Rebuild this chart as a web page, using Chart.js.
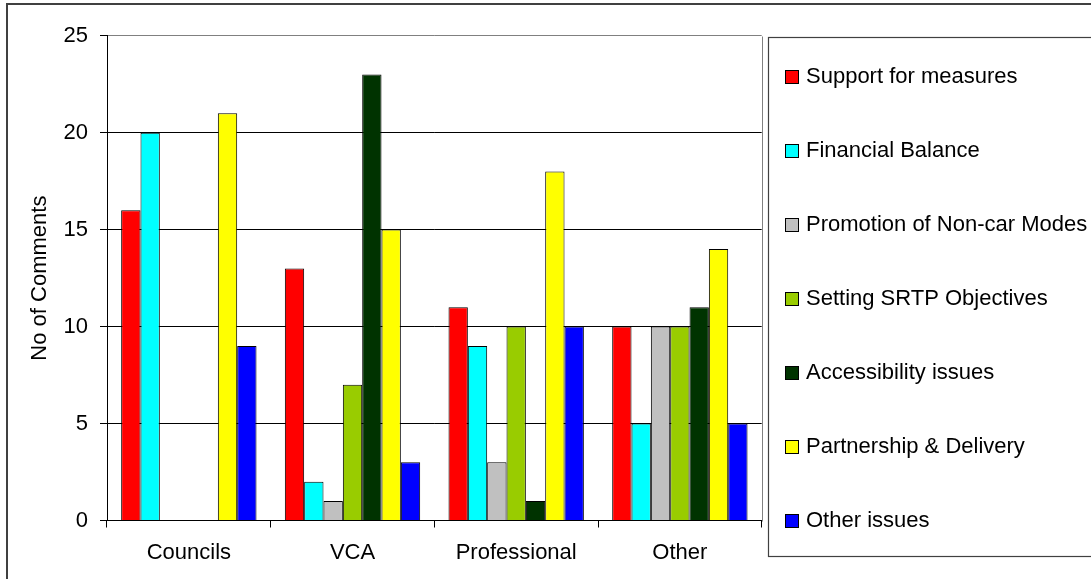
<!DOCTYPE html>
<html><head><meta charset="utf-8">
<script src="https://cdn.jsdelivr.net/npm/chart.js@4.4.0/dist/chart.umd.min.js"></script>
<style>html,body{margin:0;padding:0;background:#fff;overflow:hidden;} canvas{display:block;}</style>
</head><body>
<canvas id="c" width="1091" height="579"></canvas>
<script>
// ---- data ----
const categories = ['Councils', 'VCA', 'Professional', 'Other'];
const seriesNames = ['Support for measures', 'Financial Balance', 'Promotion of Non-car Modes',
  'Setting SRTP Objectives', 'Accessibility issues', 'Partnership & Delivery', 'Other issues'];
const supportForMeasures = [16, 13, 11, 10];
const financialBalance = [20, 2, 9, 5];
const promotionNonCar = [0, 1, 3, 10];
const settingSRTP = [0, 7, 10, 10];
const accessibilityIssues = [0, 23, 1, 11];
const partnershipDelivery = [21, 15, 18, 14];
const otherIssues = [9, 3, 10, 5];
const yMin = 0, yMax = 25, yStep = 5;
const yAxisTitle = 'No of Comments';

// ---- styles ----
const seriesColors = ['#FF0000', '#00FFFF', '#C0C0C0', '#99CC00', '#003300', '#FFFF00', '#0000FF'];
const FONT_FAMILY = '"Liberation Sans", Arial, sans-serif';
const FONT_SIZE = 22;

const seriesValues = [supportForMeasures, financialBalance, promotionNonCar, settingSRTP,
  accessibilityIssues, partnershipDelivery, otherIssues];

const datasets = seriesNames.map((name, i) => ({
  label: name,
  data: seriesValues[i],
  backgroundColor: seriesColors[i],
  borderColor: '#000',
  borderWidth: 1,
  borderSkipped: 'start',
  categoryPercentage: 0.827,
  barPercentage: 1.0
}));

const framePlugin = {
  id: 'framePlugin',
  beforeDraw(chart) {
    const ctx = chart.ctx;
    ctx.save();
    ctx.fillStyle = '#fff';
    ctx.fillRect(0, 0, chart.width, chart.height);
    ctx.restore();
  },
  afterDraw(chart) {
    const ctx = chart.ctx;
    const a = chart.chartArea;
    ctx.save();
    // plot area right border
    ctx.strokeStyle = '#808080';
    ctx.lineWidth = 1;
    const rx = Math.round(a.right) + 0.5;
    ctx.beginPath();
    ctx.moveTo(rx, Math.round(a.top) + 0.5);
    ctx.lineTo(rx, Math.round(a.bottom) + 0.5);
    ctx.stroke();
    // outer chart border
    ctx.strokeStyle = '#404040';
    ctx.lineWidth = 2;
    ctx.strokeRect(7, 4, 1200, 700);
    // legend box
    ctx.strokeStyle = '#404040';
    ctx.lineWidth = 1.2;
    ctx.strokeRect(768.5, 37.5, 400, 519);
    // legend entries
    ctx.font = FONT_SIZE + 'px ' + FONT_FAMILY;
    ctx.textBaseline = 'alphabetic';
    ctx.textAlign = 'left';
    chart.data.datasets.forEach((ds, i) => {
      const base = 82.7 + 74.1 * i;
      ctx.fillStyle = ds.backgroundColor;
      ctx.fillRect(785.5, Math.round(base - 13) + 0.5, 13, 13);
      ctx.strokeStyle = '#000';
      ctx.lineWidth = 1;
      ctx.strokeRect(785.5, Math.round(base - 13) + 0.5, 13, 13);
      ctx.fillStyle = '#000';
      ctx.fillText(ds.label, 806, base);
    });
    ctx.restore();
  }
};

new Chart(document.getElementById('c'), {
  type: 'bar',
  data: { labels: categories, datasets },
  options: {
    responsive: false,
    devicePixelRatio: 1,
    animation: false,
    events: [],
    layout: { padding: { left: 0, top: 35.7, right: 329.3, bottom: 0 } },
    plugins: { legend: { display: false }, tooltip: { enabled: false } },
    scales: {
      x: {
        offset: true,
        grid: { display: true, offset: true, drawOnChartArea: false, drawTicks: true, tickLength: 7, color: '#000', lineWidth: 1 },
        border: { display: true, color: '#000', width: 1 },
        ticks: { color: '#000', font: { family: FONT_FAMILY, size: FONT_SIZE }, padding: 12, maxRotation: 0 },
        afterFit(scale) { scale.height = 58.5; }
      },
      y: {
        min: yMin, max: yMax,
        ticks: { stepSize: yStep, color: '#000', font: { family: FONT_FAMILY, size: FONT_SIZE }, padding: 12 },
        grid: {
          color: (c) => (c.tick && c.tick.value === yMax) ? '#808080' : '#000',
          tickColor: '#000', lineWidth: 1, tickLength: 7, drawTicks: true
        },
        border: { display: true, color: '#000', width: 1 },
        title: { display: true, text: yAxisTitle, color: '#000', font: { family: FONT_FAMILY, size: FONT_SIZE }, padding: { top: 26.8, bottom: 0 } },
        afterFit(scale) { scale.width = 107; }
      }
    }
  },
  plugins: [framePlugin]
});
</script>
</body></html>
